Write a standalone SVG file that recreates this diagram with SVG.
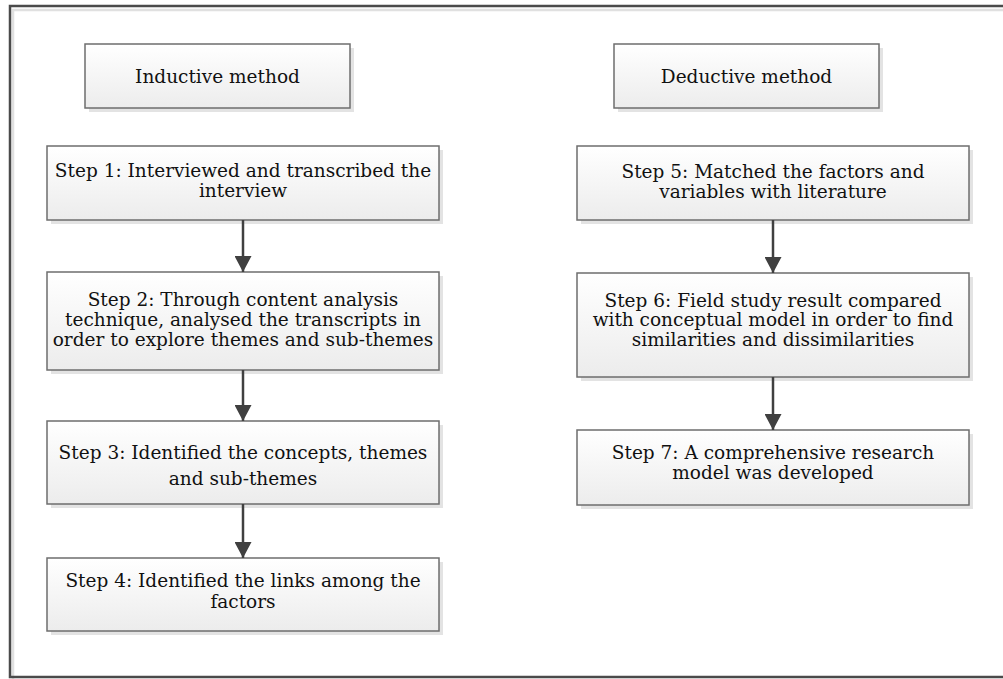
<svg xmlns="http://www.w3.org/2000/svg" width="1003" height="679" viewBox="0 0 1003 679">
  <defs>
    <linearGradient id="boxFill" x1="0" y1="0" x2="0" y2="1">
      <stop offset="0" stop-color="#ffffff"/>
      <stop offset="1" stop-color="#ececec"/>
    </linearGradient>
    <marker id="arrowHead" viewBox="0 0 16 17" refX="16" refY="8.5" markerWidth="16" markerHeight="17" markerUnits="userSpaceOnUse" orient="auto">
      <path d="M0,0 L16,8.5 L0,17 Z" fill="#404040"/>
    </marker>
  </defs>
  <style>
    .shadow { fill: #e3e3e3; }
    .box { fill: url(#boxFill); stroke: #6e6e6e; stroke-width: 1.5; }
    .label { font-family: "DejaVu Serif", "Liberation Serif", serif; font-size: 18.5px; fill: #111; text-anchor: middle; }
    .conn { stroke: #404040; stroke-width: 2.5; fill: none; marker-end: url(#arrowHead); }
  </style>

  <rect width="1003" height="679" fill="#ffffff"/>

  <!-- outer frame -->
  <g id="frame">
    <path d="M13,679 V10 H1003" fill="none" stroke="#e0e0e0" stroke-width="2.5"/>
    <rect x="10" y="6" width="1000" height="671" fill="none" stroke="#4a4a4a" stroke-width="2.5"/>
  </g>

  <!-- method headers -->
  <g id="inductive">
    <rect class="shadow" x="89" y="48" width="265" height="64"/>
    <rect class="box" x="85" y="44" width="265" height="64"/>
    <text class="label" x="217.5" y="83">Inductive method</text>
  </g>
  <g id="deductive">
    <rect class="shadow" x="618" y="48" width="265" height="64"/>
    <rect class="box" x="614" y="44" width="265" height="64"/>
    <text class="label" x="746.5" y="83">Deductive method</text>
  </g>

  <!-- inductive steps -->
  <g id="step1">
    <rect class="shadow" x="51" y="150" width="392" height="74"/>
    <rect class="box" x="47" y="146" width="392" height="74"/>
    <text class="label" x="243" y="177">Step 1: Interviewed and transcribed the</text>
    <text class="label" x="243" y="197">interview</text>
  </g>
  <g id="step2">
    <rect class="shadow" x="51" y="276" width="392" height="98"/>
    <rect class="box" x="47" y="272" width="392" height="98"/>
    <text class="label" x="243" y="306">Step 2: Through content analysis</text>
    <text class="label" x="243" y="326">technique, analysed the transcripts in</text>
    <text class="label" x="243" y="346">order to explore themes and sub-themes</text>
  </g>
  <g id="step3">
    <rect class="shadow" x="51" y="425" width="392" height="83"/>
    <rect class="box" x="47" y="421" width="392" height="83"/>
    <text class="label" x="243" y="459">Step 3: Identified the concepts, themes</text>
    <text class="label" x="243" y="485">and sub-themes</text>
  </g>
  <g id="step4">
    <rect class="shadow" x="51" y="562" width="392" height="73"/>
    <rect class="box" x="47" y="558" width="392" height="73"/>
    <text class="label" x="243" y="587">Step 4: Identified the links among the</text>
    <text class="label" x="243" y="608">factors</text>
  </g>

  <!-- deductive steps -->
  <g id="step5">
    <rect class="shadow" x="581" y="150" width="392" height="74"/>
    <rect class="box" x="577" y="146" width="392" height="74"/>
    <text class="label" x="773" y="178">Step 5: Matched the factors and</text>
    <text class="label" x="773" y="198">variables with literature</text>
  </g>
  <g id="step6">
    <rect class="shadow" x="581" y="277" width="392" height="104"/>
    <rect class="box" x="577" y="273" width="392" height="104"/>
    <text class="label" x="773" y="307">Step 6: Field study result compared</text>
    <text class="label" x="773" y="326">with conceptual model in order to find</text>
    <text class="label" x="773" y="346">similarities and dissimilarities</text>
  </g>
  <g id="step7">
    <rect class="shadow" x="581" y="434" width="392" height="75"/>
    <rect class="box" x="577" y="430" width="392" height="75"/>
    <text class="label" x="773" y="459">Step 7: A comprehensive research</text>
    <text class="label" x="773" y="479">model was developed</text>
  </g>

  <!-- connectors -->
  <g id="connectors">
    <line class="conn" x1="243" y1="220" x2="243" y2="272"/>
    <line class="conn" x1="243" y1="370" x2="243" y2="421"/>
    <line class="conn" x1="243" y1="504" x2="243" y2="558"/>
    <line class="conn" x1="773" y1="220" x2="773" y2="273"/>
    <line class="conn" x1="773" y1="377" x2="773" y2="430"/>
  </g>
</svg>
